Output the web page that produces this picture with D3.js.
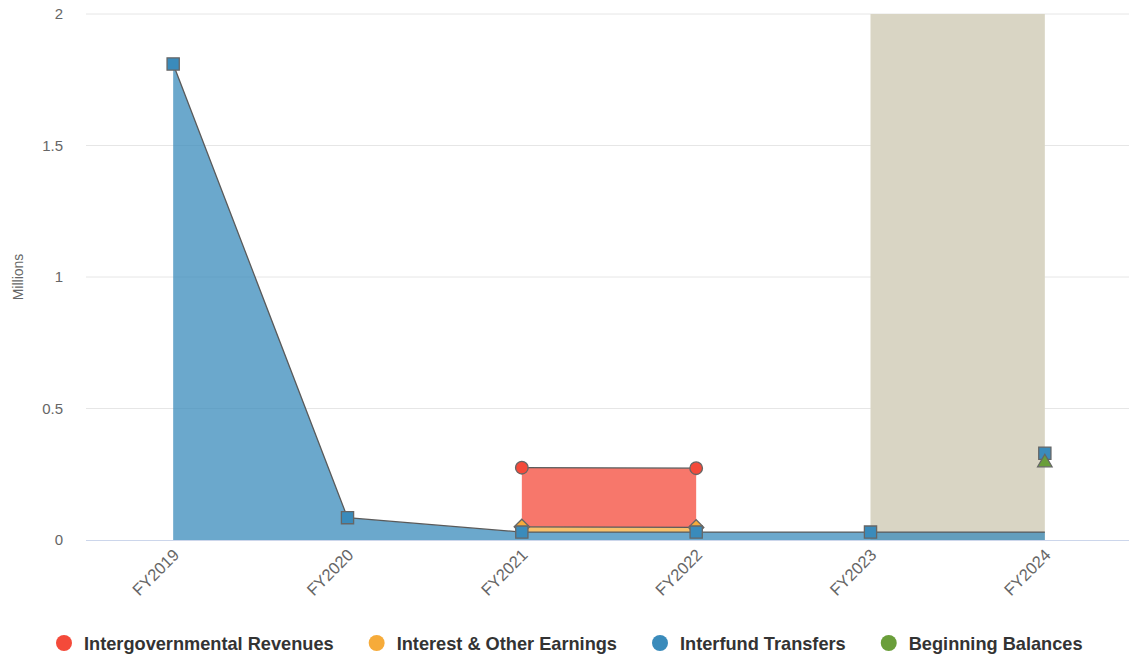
<!DOCTYPE html>
<html>
<head>
<meta charset="utf-8">
<script src="https://cdn.jsdelivr.net/npm/d3@7"></script>
<style>
  html, body { margin: 0; padding: 0; background: #ffffff; }
  svg { display: block; font-family: "Liberation Sans", Arial, Helvetica, sans-serif; }
</style>
</head>
<body>
<svg id="chart" width="1129" height="659"></svg>
<script>
// ---- data (values in millions) ----
const categories = ["FY2019", "FY2020", "FY2021", "FY2022", "FY2023", "FY2024"];
const intergovernmentalRevenues = [null, null, 0.225, 0.225, null, null];
const interestOtherEarnings     = [null, null, 0.020, 0.018, null, null];
const interfundTransfers        = [1.81, 0.085, 0.030, 0.030, 0.030, 0.030];
const beginningBalances         = [null, null, null, null, null, 0.30];
const yTicks = [0, 0.5, 1, 1.5, 2];
const yTickLabels = ["0", "0.5", "1", "1.5", "2"];
const bandRange = ["FY2023", "FY2024"];
const seriesNames = ["Intergovernmental Revenues", "Interest & Other Earnings", "Interfund Transfers", "Beginning Balances"];
const seriesColors = ["#f44a3a", "#f6ab3a", "#3a8bbb", "#6a9e3a"];

// ---- layout ----
const svg = d3.select("#chart");
const plotLeft = 86, plotRight = 1132, plotTop = 14, plotBottom = 540;

const x = d3.scalePoint().domain(categories).range([plotLeft, plotRight]).padding(0.5);
const y = d3.scaleLinear().domain([0, 2]).range([plotBottom, plotTop]);

// grid lines
svg.append("g").selectAll("line").data(yTicks.filter(t => t !== 0)).join("line")
  .attr("x1", plotLeft).attr("x2", 1129)
  .attr("y1", d => y(d)).attr("y2", d => y(d))
  .attr("stroke", "#e6e6e6").attr("stroke-width", 1);

// plot band
svg.append("rect")
  .attr("x", x(bandRange[0])).attr("width", x(bandRange[1]) - x(bandRange[0]))
  .attr("y", plotTop).attr("height", plotBottom - plotTop)
  .attr("fill", "#d9d5c4");

// stacking (blue at bottom, orange above, red on top)
const idx = d3.range(categories.length);
const blueTop = idx.map(i => interfundTransfers[i]);
const orangeBase = idx.map(i => interestOtherEarnings[i] == null ? null : interfundTransfers[i]);
const orangeTop = idx.map(i => interestOtherEarnings[i] == null ? null : interfundTransfers[i] + interestOtherEarnings[i]);
const redBase = idx.map(i => intergovernmentalRevenues[i] == null ? null : orangeTop[i]);
const redTop = idx.map(i => intergovernmentalRevenues[i] == null ? null : orangeTop[i] + intergovernmentalRevenues[i]);

function drawArea(base, top, color) {
  const pts = idx.map(i => ({c: categories[i], b: base[i], t: top[i]}));
  const area = d3.area().defined(d => d.t != null)
    .x(d => x(d.c)).y0(d => y(d.b)).y1(d => y(d.t));
  const line = d3.line().defined(d => d.t != null).x(d => x(d.c)).y(d => y(d.t));
  svg.append("path").datum(pts).attr("d", area)
    .attr("fill", color).attr("fill-opacity", 0.75);
  svg.append("path").datum(pts).attr("d", line)
    .attr("fill", "none").attr("stroke", "#5a5a5a").attr("stroke-width", 1.3);
}
drawArea(redBase, redTop, seriesColors[0]);
drawArea(orangeBase, orangeTop, seriesColors[1]);
drawArea(idx.map(() => 0), blueTop, seriesColors[2]);

// x axis line
svg.append("line")
  .attr("x1", plotLeft).attr("x2", 1129)
  .attr("y1", plotBottom + 0.5).attr("y2", plotBottom + 0.5)
  .attr("stroke", "#ccd6eb").attr("stroke-width", 1);

// markers
const markers = svg.append("g");
function circleMarkers(vals, color) {
  markers.selectAll(null).data(idx.filter(i => vals[i] != null)).join("circle")
    .attr("cx", i => x(categories[i])).attr("cy", i => y(vals[i])).attr("r", 6.3)
    .attr("fill", color).attr("stroke", "#666").attr("stroke-width", 1.3);
}
function symbolMarkers(vals, color, type, size, dy) {
  markers.selectAll(null).data(idx.filter(i => vals[i] != null)).join("path")
    .attr("transform", i => `translate(${x(categories[i])},${y(vals[i]) + (dy || 0)})`)
    .attr("d", d3.symbol().type(type).size(size))
    .attr("fill", color).attr("stroke", "#666").attr("stroke-width", 1.3);
}
circleMarkers(redTop, seriesColors[0]);
symbolMarkers(orangeTop, seriesColors[1], d3.symbolDiamond2, 150);
// Interfund markers; at FY2024 the point sits stacked on Beginning Balances
const last = categories.length - 1;
const blueMarker = idx.map(i => i === last
  ? (beginningBalances[i] != null ? beginningBalances[i] + interfundTransfers[i] : null)
  : interfundTransfers[i]);
symbolMarkers(blueMarker, seriesColors[2], d3.symbolSquare2, 190);
symbolMarkers(beginningBalances, seriesColors[3], d3.symbolTriangle2, 150, 1.5);

// y axis labels
svg.append("g").selectAll("text").data(yTicks).join("text")
  .attr("x", 63).attr("y", d => y(d) + 5)
  .attr("text-anchor", "end").attr("font-size", 15).attr("fill", "#666")
  .text((d, i) => yTickLabels[i]);

// y axis title
svg.append("text")
  .attr("transform", `translate(23,277) rotate(-90)`)
  .attr("text-anchor", "middle").attr("font-size", 14).attr("fill", "#666")
  .text("Millions");

// x axis labels
svg.append("g").selectAll("text").data(categories).join("text")
  .attr("transform", d => `translate(${x(d) + 7},${plotBottom + 16}) rotate(-45)`)
  .attr("text-anchor", "end").attr("font-size", 16.5).attr("fill", "#666")
  .text(d => d);

// legend
const legend = svg.append("g");
let lx = 64;
seriesNames.forEach((name, i) => {
  legend.append("circle").attr("cx", lx).attr("cy", 643).attr("r", 8).attr("fill", seriesColors[i]);
  const t = legend.append("text").attr("x", lx + 20).attr("y", 649.5)
    .attr("font-size", 18.2).attr("font-weight", "bold").attr("fill", "#333").text(name);
  lx += 20 + t.node().getComputedTextLength() + 43;
});
</script>
</body>
</html>
